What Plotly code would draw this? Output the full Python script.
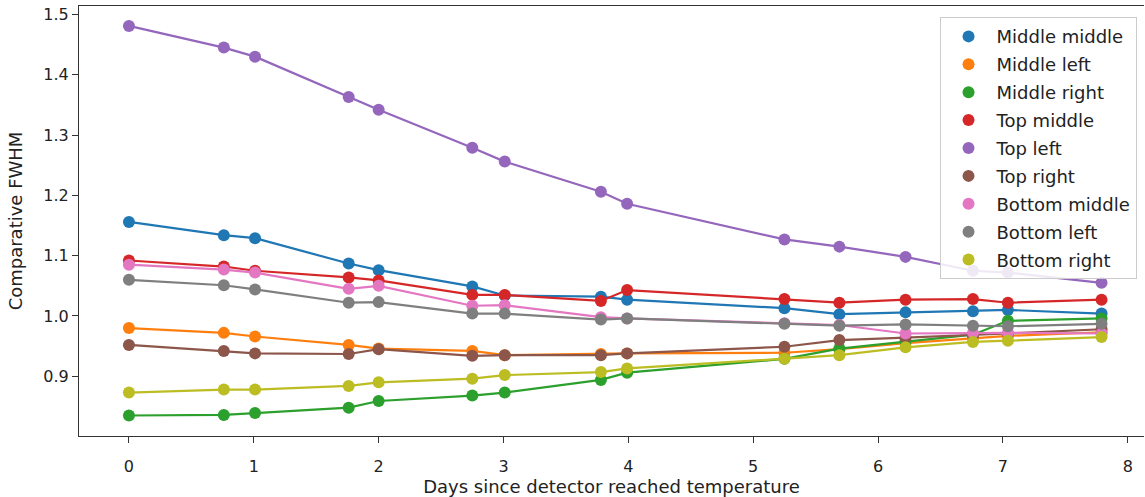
import plotly.graph_objects as go

days = [0, 0.76, 1.01, 1.76, 2.0, 2.75, 3.01, 3.78, 3.99, 5.25, 5.69, 6.22, 6.76, 7.04, 7.79]

middle_middle = [1.156, 1.134, 1.129, 1.087, 1.076, 1.049, 1.034, 1.032, 1.027, 1.013, 1.003, 1.006, 1.008, 1.010, 1.004]
middle_left   = [0.980, 0.972, 0.966, 0.952, 0.946, 0.942, 0.935, 0.937, 0.938, 0.939, 0.945, 0.955, 0.963, 0.967, 0.973]
middle_right  = [0.835, 0.836, 0.839, 0.848, 0.859, 0.868, 0.873, 0.894, 0.906, 0.929, 0.946, 0.958, 0.969, 0.992, 0.996]
top_middle    = [1.092, 1.082, 1.075, 1.064, 1.059, 1.035, 1.035, 1.025, 1.043, 1.028, 1.022, 1.027, 1.028, 1.022, 1.027]
top_left      = [1.481, 1.445, 1.430, 1.363, 1.342, 1.279, 1.256, 1.206, 1.186, 1.127, 1.115, 1.098, 1.075, 1.072, 1.055]
top_right     = [0.952, 0.942, 0.938, 0.937, 0.945, 0.934, 0.935, 0.935, 0.938, 0.949, 0.960, 0.964, 0.968, 0.971, 0.978]
bottom_middle = [1.085, 1.077, 1.072, 1.045, 1.050, 1.017, 1.018, 0.998, 0.996, 0.988, 0.985, 0.971, 0.972, 0.972, 0.971]
bottom_left   = [1.060, 1.051, 1.044, 1.022, 1.023, 1.004, 1.004, 0.994, 0.996, 0.987, 0.984, 0.986, 0.984, 0.983, 0.987]
bottom_right  = [0.873, 0.878, 0.878, 0.884, 0.890, 0.896, 0.902, 0.907, 0.913, 0.929, 0.935, 0.948, 0.957, 0.959, 0.965]

series_names = ["Middle middle", "Middle left", "Middle right", "Top middle", "Top left",
                "Top right", "Bottom middle", "Bottom left", "Bottom right"]
series_values = [middle_middle, middle_left, middle_right, top_middle, top_left,
                 top_right, bottom_middle, bottom_left, bottom_right]
colors = ["#1f77b4", "#ff7f0e", "#2ca02c", "#d62728", "#9467bd",
          "#8c564b", "#e377c2", "#7f7f7f", "#bcbd22"]

y_ticks = [0.9, 1.0, 1.1, 1.2, 1.3, 1.4, 1.5]
x_ticks = [0, 1, 2, 3, 4, 5, 6, 7, 8]

font = "DejaVu Sans"
txt = "#222222"
fig = go.Figure()
for name, vals, col in zip(series_names, series_values, colors):
    fig.add_trace(go.Scatter(x=days, y=vals, mode="lines", line=dict(color=col, width=2.2),
                             showlegend=False, legendgroup=name, hoverinfo="skip"))
    fig.add_trace(go.Scatter(x=days, y=vals, mode="markers", name=name, legendgroup=name,
                             marker=dict(color=col, size=12)))

fig.update_layout(
    width=1145, height=497,
    margin=dict(l=79, r=1, t=6, b=61),
    plot_bgcolor="white", paper_bgcolor="white",
    font=dict(family=font, size=15, color=txt),
    legend=dict(x=0.808, y=0.974, xanchor="left", yanchor="top",
                bgcolor="rgba(255,255,255,0.85)", bordercolor="#cccccc", borderwidth=1,
                font=dict(family=font, size=18, color=txt), tracegroupgap=1.5,
                traceorder="grouped", itemsizing="constant", itemwidth=46),
    xaxis=dict(range=[-0.40, 8.13], tickvals=x_ticks, ticktext=[str(v) for v in x_ticks],
               automargin=False, tickfont=dict(family=font, size=16, color=txt),
               showgrid=False, zeroline=False, showline=True, linecolor="#333333", linewidth=1.2,
               mirror=True, ticks="outside", ticklen=6, tickcolor="#333333",
               ticklabelstandoff=10,
               title=dict(text="Days since detector reached temperature", standoff=0)),
    yaxis=dict(range=[0.801, 1.514], tickvals=y_ticks, ticktext=[f"{v:.1f}" for v in y_ticks],
               automargin=False, tickfont=dict(family=font, size=16, color=txt),
               showgrid=False, zeroline=False, showline=True, linecolor="#333333", linewidth=1.2,
               mirror=False, ticks="outside", ticklen=6, tickcolor="#333333",
               title=dict(text="Comparative FWHM", standoff=15)),
)

fig.write_html("out.html", config={"displayModeBar": False},
               post_script="document.body.style.margin='0';document.body.style.padding='0';")
